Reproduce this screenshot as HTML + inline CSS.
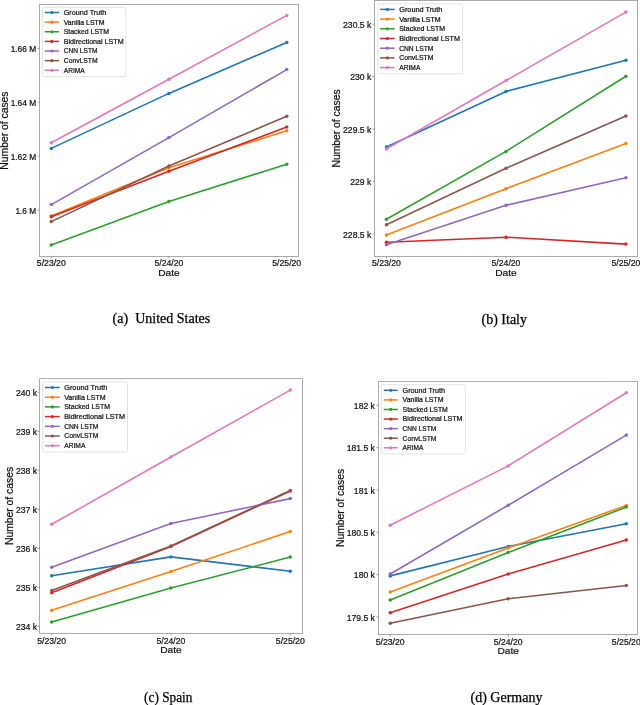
<!DOCTYPE html><html><head><meta charset="utf-8"><style>
html,body{margin:0;padding:0;background:#fff;width:640px;height:705px;overflow:hidden;position:relative}
svg{display:block;position:absolute;left:0;top:0}
.tx{will-change:transform}
text{font-family:"Liberation Sans",sans-serif;fill:#111;stroke:#111;stroke-width:0.22px}
text.cap{font-family:"Liberation Serif",serif;fill:#000;stroke:#000;stroke-width:0.25px}
</style></head><body>
<svg width="640" height="705" viewBox="0 0 640 705">
<polyline points="51.30,148.40 168.90,93.40 286.75,42.40" fill="none" stroke="#1f77b4" stroke-width="1.6" stroke-linejoin="round"/>
<circle cx="51.30" cy="148.40" r="1.75" fill="#1f77b4"/>
<circle cx="168.90" cy="93.40" r="1.75" fill="#1f77b4"/>
<circle cx="286.75" cy="42.40" r="1.75" fill="#1f77b4"/>
<polyline points="51.30,216.00 168.90,167.80 286.75,130.80" fill="none" stroke="#ff7f0e" stroke-width="1.6" stroke-linejoin="round"/>
<circle cx="51.30" cy="216.00" r="1.75" fill="#ff7f0e"/>
<circle cx="168.90" cy="167.80" r="1.75" fill="#ff7f0e"/>
<circle cx="286.75" cy="130.80" r="1.75" fill="#ff7f0e"/>
<polyline points="51.30,244.90 168.90,201.40 286.75,164.20" fill="none" stroke="#2ca02c" stroke-width="1.6" stroke-linejoin="round"/>
<circle cx="51.30" cy="244.90" r="1.75" fill="#2ca02c"/>
<circle cx="168.90" cy="201.40" r="1.75" fill="#2ca02c"/>
<circle cx="286.75" cy="164.20" r="1.75" fill="#2ca02c"/>
<polyline points="51.30,216.80 168.90,171.20 286.75,127.10" fill="none" stroke="#d62728" stroke-width="1.6" stroke-linejoin="round"/>
<circle cx="51.30" cy="216.80" r="1.75" fill="#d62728"/>
<circle cx="168.90" cy="171.20" r="1.75" fill="#d62728"/>
<circle cx="286.75" cy="127.10" r="1.75" fill="#d62728"/>
<polyline points="51.30,204.60 168.90,137.60 286.75,69.60" fill="none" stroke="#9467bd" stroke-width="1.6" stroke-linejoin="round"/>
<circle cx="51.30" cy="204.60" r="1.75" fill="#9467bd"/>
<circle cx="168.90" cy="137.60" r="1.75" fill="#9467bd"/>
<circle cx="286.75" cy="69.60" r="1.75" fill="#9467bd"/>
<polyline points="51.30,221.60 168.90,166.00 286.75,116.30" fill="none" stroke="#8c564b" stroke-width="1.6" stroke-linejoin="round"/>
<circle cx="51.30" cy="221.60" r="1.75" fill="#8c564b"/>
<circle cx="168.90" cy="166.00" r="1.75" fill="#8c564b"/>
<circle cx="286.75" cy="116.30" r="1.75" fill="#8c564b"/>
<polyline points="51.30,142.80 168.90,79.30 286.75,15.40" fill="none" stroke="#e377c2" stroke-width="1.6" stroke-linejoin="round"/>
<circle cx="51.30" cy="142.80" r="1.75" fill="#e377c2"/>
<circle cx="168.90" cy="79.30" r="1.75" fill="#e377c2"/>
<circle cx="286.75" cy="15.40" r="1.75" fill="#e377c2"/>
<rect x="39.5" y="4.5" width="259.00" height="252.00" fill="none" stroke="#aaa" stroke-width="1"/>
<line x1="51.3" y1="256.5" x2="51.3" y2="258.5" stroke="#777" stroke-width="0.7"/>
<line x1="168.9" y1="256.5" x2="168.9" y2="258.5" stroke="#777" stroke-width="0.7"/>
<line x1="286.75" y1="256.5" x2="286.75" y2="258.5" stroke="#777" stroke-width="0.7"/>
<line x1="37.5" y1="48.4" x2="39.5" y2="48.4" stroke="#777" stroke-width="0.7"/>
<line x1="37.5" y1="102.3" x2="39.5" y2="102.3" stroke="#777" stroke-width="0.7"/>
<line x1="37.5" y1="156.2" x2="39.5" y2="156.2" stroke="#777" stroke-width="0.7"/>
<line x1="37.5" y1="210.0" x2="39.5" y2="210.0" stroke="#777" stroke-width="0.7"/>
<rect x="42.3" y="7.3" width="83.60" height="69.30" rx="1.5" fill="#fff" fill-opacity="0.8" stroke="#dcdcdc" stroke-width="0.8"/>
<line x1="44.7" y1="12.50" x2="59.0" y2="12.50" stroke="#1f77b4" stroke-width="1.5"/>
<circle cx="51.85" cy="12.50" r="1.6" fill="#1f77b4"/>
<line x1="44.7" y1="22.13" x2="59.0" y2="22.13" stroke="#ff7f0e" stroke-width="1.5"/>
<circle cx="51.85" cy="22.13" r="1.6" fill="#ff7f0e"/>
<line x1="44.7" y1="31.76" x2="59.0" y2="31.76" stroke="#2ca02c" stroke-width="1.5"/>
<circle cx="51.85" cy="31.76" r="1.6" fill="#2ca02c"/>
<line x1="44.7" y1="41.39" x2="59.0" y2="41.39" stroke="#d62728" stroke-width="1.5"/>
<circle cx="51.85" cy="41.39" r="1.6" fill="#d62728"/>
<line x1="44.7" y1="51.02" x2="59.0" y2="51.02" stroke="#9467bd" stroke-width="1.5"/>
<circle cx="51.85" cy="51.02" r="1.6" fill="#9467bd"/>
<line x1="44.7" y1="60.65" x2="59.0" y2="60.65" stroke="#8c564b" stroke-width="1.5"/>
<circle cx="51.85" cy="60.65" r="1.6" fill="#8c564b"/>
<line x1="44.7" y1="70.28" x2="59.0" y2="70.28" stroke="#e377c2" stroke-width="1.5"/>
<circle cx="51.85" cy="70.28" r="1.6" fill="#e377c2"/>
<polyline points="386.40,147.00 506.00,91.40 625.90,60.30" fill="none" stroke="#1f77b4" stroke-width="1.6" stroke-linejoin="round"/>
<circle cx="386.40" cy="147.00" r="1.75" fill="#1f77b4"/>
<circle cx="506.00" cy="91.40" r="1.75" fill="#1f77b4"/>
<circle cx="625.90" cy="60.30" r="1.75" fill="#1f77b4"/>
<polyline points="386.40,234.90 506.00,188.70 625.90,143.60" fill="none" stroke="#ff7f0e" stroke-width="1.6" stroke-linejoin="round"/>
<circle cx="386.40" cy="234.90" r="1.75" fill="#ff7f0e"/>
<circle cx="506.00" cy="188.70" r="1.75" fill="#ff7f0e"/>
<circle cx="625.90" cy="143.60" r="1.75" fill="#ff7f0e"/>
<polyline points="386.40,219.30 506.00,151.40 625.90,76.20" fill="none" stroke="#2ca02c" stroke-width="1.6" stroke-linejoin="round"/>
<circle cx="386.40" cy="219.30" r="1.75" fill="#2ca02c"/>
<circle cx="506.00" cy="151.40" r="1.75" fill="#2ca02c"/>
<circle cx="625.90" cy="76.20" r="1.75" fill="#2ca02c"/>
<polyline points="386.40,242.20 506.00,237.20 625.90,244.10" fill="none" stroke="#d62728" stroke-width="1.6" stroke-linejoin="round"/>
<circle cx="386.40" cy="242.20" r="1.75" fill="#d62728"/>
<circle cx="506.00" cy="237.20" r="1.75" fill="#d62728"/>
<circle cx="625.90" cy="244.10" r="1.75" fill="#d62728"/>
<polyline points="386.40,244.80 506.00,205.30 625.90,177.80" fill="none" stroke="#9467bd" stroke-width="1.6" stroke-linejoin="round"/>
<circle cx="386.40" cy="244.80" r="1.75" fill="#9467bd"/>
<circle cx="506.00" cy="205.30" r="1.75" fill="#9467bd"/>
<circle cx="625.90" cy="177.80" r="1.75" fill="#9467bd"/>
<polyline points="386.40,224.80 506.00,168.30 625.90,116.10" fill="none" stroke="#8c564b" stroke-width="1.6" stroke-linejoin="round"/>
<circle cx="386.40" cy="224.80" r="1.75" fill="#8c564b"/>
<circle cx="506.00" cy="168.30" r="1.75" fill="#8c564b"/>
<circle cx="625.90" cy="116.10" r="1.75" fill="#8c564b"/>
<polyline points="386.40,149.00 506.00,80.50 625.90,12.10" fill="none" stroke="#e377c2" stroke-width="1.6" stroke-linejoin="round"/>
<circle cx="386.40" cy="149.00" r="1.75" fill="#e377c2"/>
<circle cx="506.00" cy="80.50" r="1.75" fill="#e377c2"/>
<circle cx="625.90" cy="12.10" r="1.75" fill="#e377c2"/>
<rect x="374.5" y="0.5" width="263.00" height="256.00" fill="none" stroke="#aaa" stroke-width="1"/>
<line x1="386.4" y1="256.5" x2="386.4" y2="258.5" stroke="#777" stroke-width="0.7"/>
<line x1="506.0" y1="256.5" x2="506.0" y2="258.5" stroke="#777" stroke-width="0.7"/>
<line x1="625.9" y1="256.5" x2="625.9" y2="258.5" stroke="#777" stroke-width="0.7"/>
<line x1="372.5" y1="24.2" x2="374.5" y2="24.2" stroke="#777" stroke-width="0.7"/>
<line x1="372.5" y1="76.6" x2="374.5" y2="76.6" stroke="#777" stroke-width="0.7"/>
<line x1="372.5" y1="129.0" x2="374.5" y2="129.0" stroke="#777" stroke-width="0.7"/>
<line x1="372.5" y1="181.4" x2="374.5" y2="181.4" stroke="#777" stroke-width="0.7"/>
<line x1="372.5" y1="233.8" x2="374.5" y2="233.8" stroke="#777" stroke-width="0.7"/>
<rect x="377.8" y="3.75" width="84.70" height="70.00" rx="1.5" fill="#fff" fill-opacity="0.8" stroke="#dcdcdc" stroke-width="0.8"/>
<line x1="380.0" y1="9.40" x2="394.7" y2="9.40" stroke="#1f77b4" stroke-width="1.5"/>
<circle cx="387.35" cy="9.40" r="1.6" fill="#1f77b4"/>
<line x1="380.0" y1="19.10" x2="394.7" y2="19.10" stroke="#ff7f0e" stroke-width="1.5"/>
<circle cx="387.35" cy="19.10" r="1.6" fill="#ff7f0e"/>
<line x1="380.0" y1="28.80" x2="394.7" y2="28.80" stroke="#2ca02c" stroke-width="1.5"/>
<circle cx="387.35" cy="28.80" r="1.6" fill="#2ca02c"/>
<line x1="380.0" y1="38.50" x2="394.7" y2="38.50" stroke="#d62728" stroke-width="1.5"/>
<circle cx="387.35" cy="38.50" r="1.6" fill="#d62728"/>
<line x1="380.0" y1="48.20" x2="394.7" y2="48.20" stroke="#9467bd" stroke-width="1.5"/>
<circle cx="387.35" cy="48.20" r="1.6" fill="#9467bd"/>
<line x1="380.0" y1="57.90" x2="394.7" y2="57.90" stroke="#8c564b" stroke-width="1.5"/>
<circle cx="387.35" cy="57.90" r="1.6" fill="#8c564b"/>
<line x1="380.0" y1="67.60" x2="394.7" y2="67.60" stroke="#e377c2" stroke-width="1.5"/>
<circle cx="387.35" cy="67.60" r="1.6" fill="#e377c2"/>
<polyline points="51.70,575.70 170.90,556.90 290.30,571.30" fill="none" stroke="#1f77b4" stroke-width="1.6" stroke-linejoin="round"/>
<circle cx="51.70" cy="575.70" r="1.75" fill="#1f77b4"/>
<circle cx="170.90" cy="556.90" r="1.75" fill="#1f77b4"/>
<circle cx="290.30" cy="571.30" r="1.75" fill="#1f77b4"/>
<polyline points="51.70,610.20 170.90,571.50 290.30,531.50" fill="none" stroke="#ff7f0e" stroke-width="1.6" stroke-linejoin="round"/>
<circle cx="51.70" cy="610.20" r="1.75" fill="#ff7f0e"/>
<circle cx="170.90" cy="571.50" r="1.75" fill="#ff7f0e"/>
<circle cx="290.30" cy="531.50" r="1.75" fill="#ff7f0e"/>
<polyline points="51.70,622.10 170.90,588.00 290.30,557.10" fill="none" stroke="#2ca02c" stroke-width="1.6" stroke-linejoin="round"/>
<circle cx="51.70" cy="622.10" r="1.75" fill="#2ca02c"/>
<circle cx="170.90" cy="588.00" r="1.75" fill="#2ca02c"/>
<circle cx="290.30" cy="557.10" r="1.75" fill="#2ca02c"/>
<polyline points="51.70,592.80 170.90,546.40 290.30,491.00" fill="none" stroke="#d62728" stroke-width="1.6" stroke-linejoin="round"/>
<circle cx="51.70" cy="592.80" r="1.75" fill="#d62728"/>
<circle cx="170.90" cy="546.40" r="1.75" fill="#d62728"/>
<circle cx="290.30" cy="491.00" r="1.75" fill="#d62728"/>
<polyline points="51.70,567.20 170.90,523.50 290.30,498.60" fill="none" stroke="#9467bd" stroke-width="1.6" stroke-linejoin="round"/>
<circle cx="51.70" cy="567.20" r="1.75" fill="#9467bd"/>
<circle cx="170.90" cy="523.50" r="1.75" fill="#9467bd"/>
<circle cx="290.30" cy="498.60" r="1.75" fill="#9467bd"/>
<polyline points="51.70,590.60 170.90,546.00 290.30,490.40" fill="none" stroke="#8c564b" stroke-width="1.6" stroke-linejoin="round"/>
<circle cx="51.70" cy="590.60" r="1.75" fill="#8c564b"/>
<circle cx="170.90" cy="546.00" r="1.75" fill="#8c564b"/>
<circle cx="290.30" cy="490.40" r="1.75" fill="#8c564b"/>
<polyline points="51.70,524.30 170.90,457.00 290.30,390.10" fill="none" stroke="#e377c2" stroke-width="1.6" stroke-linejoin="round"/>
<circle cx="51.70" cy="524.30" r="1.75" fill="#e377c2"/>
<circle cx="170.90" cy="457.00" r="1.75" fill="#e377c2"/>
<circle cx="290.30" cy="390.10" r="1.75" fill="#e377c2"/>
<rect x="39.5" y="378.6" width="263.00" height="254.90" fill="none" stroke="#aaa" stroke-width="1"/>
<line x1="51.7" y1="633.5" x2="51.7" y2="635.5" stroke="#777" stroke-width="0.7"/>
<line x1="170.9" y1="633.5" x2="170.9" y2="635.5" stroke="#777" stroke-width="0.7"/>
<line x1="290.3" y1="633.5" x2="290.3" y2="635.5" stroke="#777" stroke-width="0.7"/>
<line x1="37.5" y1="392.3" x2="39.5" y2="392.3" stroke="#777" stroke-width="0.7"/>
<line x1="37.5" y1="431.33" x2="39.5" y2="431.33" stroke="#777" stroke-width="0.7"/>
<line x1="37.5" y1="470.36" x2="39.5" y2="470.36" stroke="#777" stroke-width="0.7"/>
<line x1="37.5" y1="509.39" x2="39.5" y2="509.39" stroke="#777" stroke-width="0.7"/>
<line x1="37.5" y1="548.42" x2="39.5" y2="548.42" stroke="#777" stroke-width="0.7"/>
<line x1="37.5" y1="587.45" x2="39.5" y2="587.45" stroke="#777" stroke-width="0.7"/>
<line x1="37.5" y1="626.48" x2="39.5" y2="626.48" stroke="#777" stroke-width="0.7"/>
<rect x="42.8" y="381.9" width="84.70" height="70.10" rx="1.5" fill="#fff" fill-opacity="0.8" stroke="#dcdcdc" stroke-width="0.8"/>
<line x1="45.0" y1="387.50" x2="59.7" y2="387.50" stroke="#1f77b4" stroke-width="1.5"/>
<circle cx="52.35" cy="387.50" r="1.6" fill="#1f77b4"/>
<line x1="45.0" y1="397.20" x2="59.7" y2="397.20" stroke="#ff7f0e" stroke-width="1.5"/>
<circle cx="52.35" cy="397.20" r="1.6" fill="#ff7f0e"/>
<line x1="45.0" y1="406.90" x2="59.7" y2="406.90" stroke="#2ca02c" stroke-width="1.5"/>
<circle cx="52.35" cy="406.90" r="1.6" fill="#2ca02c"/>
<line x1="45.0" y1="416.60" x2="59.7" y2="416.60" stroke="#d62728" stroke-width="1.5"/>
<circle cx="52.35" cy="416.60" r="1.6" fill="#d62728"/>
<line x1="45.0" y1="426.30" x2="59.7" y2="426.30" stroke="#9467bd" stroke-width="1.5"/>
<circle cx="52.35" cy="426.30" r="1.6" fill="#9467bd"/>
<line x1="45.0" y1="436.00" x2="59.7" y2="436.00" stroke="#8c564b" stroke-width="1.5"/>
<circle cx="52.35" cy="436.00" r="1.6" fill="#8c564b"/>
<line x1="45.0" y1="445.70" x2="59.7" y2="445.70" stroke="#e377c2" stroke-width="1.5"/>
<circle cx="52.35" cy="445.70" r="1.6" fill="#e377c2"/>
<polyline points="390.20,575.90 508.20,546.50 626.30,523.80" fill="none" stroke="#1f77b4" stroke-width="1.6" stroke-linejoin="round"/>
<circle cx="390.20" cy="575.90" r="1.75" fill="#1f77b4"/>
<circle cx="508.20" cy="546.50" r="1.75" fill="#1f77b4"/>
<circle cx="626.30" cy="523.80" r="1.75" fill="#1f77b4"/>
<polyline points="390.20,592.00 508.20,548.00 626.30,505.40" fill="none" stroke="#ff7f0e" stroke-width="1.6" stroke-linejoin="round"/>
<circle cx="390.20" cy="592.00" r="1.75" fill="#ff7f0e"/>
<circle cx="508.20" cy="548.00" r="1.75" fill="#ff7f0e"/>
<circle cx="626.30" cy="505.40" r="1.75" fill="#ff7f0e"/>
<polyline points="390.20,600.00 508.20,552.60 626.30,507.10" fill="none" stroke="#2ca02c" stroke-width="1.6" stroke-linejoin="round"/>
<circle cx="390.20" cy="600.00" r="1.75" fill="#2ca02c"/>
<circle cx="508.20" cy="552.60" r="1.75" fill="#2ca02c"/>
<circle cx="626.30" cy="507.10" r="1.75" fill="#2ca02c"/>
<polyline points="390.20,612.80 508.20,574.10 626.30,540.10" fill="none" stroke="#d62728" stroke-width="1.6" stroke-linejoin="round"/>
<circle cx="390.20" cy="612.80" r="1.75" fill="#d62728"/>
<circle cx="508.20" cy="574.10" r="1.75" fill="#d62728"/>
<circle cx="626.30" cy="540.10" r="1.75" fill="#d62728"/>
<polyline points="390.20,574.00 508.20,505.20 626.30,435.10" fill="none" stroke="#9467bd" stroke-width="1.6" stroke-linejoin="round"/>
<circle cx="390.20" cy="574.00" r="1.75" fill="#9467bd"/>
<circle cx="508.20" cy="505.20" r="1.75" fill="#9467bd"/>
<circle cx="626.30" cy="435.10" r="1.75" fill="#9467bd"/>
<polyline points="390.20,623.30 508.20,598.70 626.30,585.50" fill="none" stroke="#8c564b" stroke-width="1.6" stroke-linejoin="round"/>
<circle cx="390.20" cy="623.30" r="1.75" fill="#8c564b"/>
<circle cx="508.20" cy="598.70" r="1.75" fill="#8c564b"/>
<circle cx="626.30" cy="585.50" r="1.75" fill="#8c564b"/>
<polyline points="390.20,525.20 508.20,465.90 626.30,392.80" fill="none" stroke="#e377c2" stroke-width="1.6" stroke-linejoin="round"/>
<circle cx="390.20" cy="525.20" r="1.75" fill="#e377c2"/>
<circle cx="508.20" cy="465.90" r="1.75" fill="#e377c2"/>
<circle cx="626.30" cy="392.80" r="1.75" fill="#e377c2"/>
<rect x="378.5" y="381.5" width="259.00" height="253.00" fill="none" stroke="#aaa" stroke-width="1"/>
<line x1="390.2" y1="634.5" x2="390.2" y2="636.5" stroke="#777" stroke-width="0.7"/>
<line x1="508.2" y1="634.5" x2="508.2" y2="636.5" stroke="#777" stroke-width="0.7"/>
<line x1="626.3" y1="634.5" x2="626.3" y2="636.5" stroke="#777" stroke-width="0.7"/>
<line x1="376.5" y1="405.3" x2="378.5" y2="405.3" stroke="#777" stroke-width="0.7"/>
<line x1="376.5" y1="447.64" x2="378.5" y2="447.64" stroke="#777" stroke-width="0.7"/>
<line x1="376.5" y1="489.98" x2="378.5" y2="489.98" stroke="#777" stroke-width="0.7"/>
<line x1="376.5" y1="532.32" x2="378.5" y2="532.32" stroke="#777" stroke-width="0.7"/>
<line x1="376.5" y1="574.66" x2="378.5" y2="574.66" stroke="#777" stroke-width="0.7"/>
<line x1="376.5" y1="617.0" x2="378.5" y2="617.0" stroke="#777" stroke-width="0.7"/>
<rect x="381.25" y="384.7" width="84.05" height="69.20" rx="1.5" fill="#fff" fill-opacity="0.8" stroke="#dcdcdc" stroke-width="0.8"/>
<line x1="383.75" y1="390.30" x2="397.8" y2="390.30" stroke="#1f77b4" stroke-width="1.5"/>
<circle cx="390.77" cy="390.30" r="1.6" fill="#1f77b4"/>
<line x1="383.75" y1="399.88" x2="397.8" y2="399.88" stroke="#ff7f0e" stroke-width="1.5"/>
<circle cx="390.77" cy="399.88" r="1.6" fill="#ff7f0e"/>
<line x1="383.75" y1="409.46" x2="397.8" y2="409.46" stroke="#2ca02c" stroke-width="1.5"/>
<circle cx="390.77" cy="409.46" r="1.6" fill="#2ca02c"/>
<line x1="383.75" y1="419.04" x2="397.8" y2="419.04" stroke="#d62728" stroke-width="1.5"/>
<circle cx="390.77" cy="419.04" r="1.6" fill="#d62728"/>
<line x1="383.75" y1="428.62" x2="397.8" y2="428.62" stroke="#9467bd" stroke-width="1.5"/>
<circle cx="390.77" cy="428.62" r="1.6" fill="#9467bd"/>
<line x1="383.75" y1="438.20" x2="397.8" y2="438.20" stroke="#8c564b" stroke-width="1.5"/>
<circle cx="390.77" cy="438.20" r="1.6" fill="#8c564b"/>
<line x1="383.75" y1="447.78" x2="397.8" y2="447.78" stroke="#e377c2" stroke-width="1.5"/>
<circle cx="390.77" cy="447.78" r="1.6" fill="#e377c2"/>
</svg>
<svg class="tx" width="640" height="705" viewBox="0 0 640 705">
<text x="51.30" y="266.00" font-size="8.62" text-anchor="middle" textLength="28.91" lengthAdjust="spacingAndGlyphs">5/23/20</text>
<text x="168.90" y="266.00" font-size="8.62" text-anchor="middle" textLength="28.91" lengthAdjust="spacingAndGlyphs">5/24/20</text>
<text x="286.75" y="266.00" font-size="8.62" text-anchor="middle" textLength="28.91" lengthAdjust="spacingAndGlyphs">5/25/20</text>
<text x="36.20" y="52.19" font-size="8.62" text-anchor="end" textLength="25.55" lengthAdjust="spacingAndGlyphs">1.66 M</text>
<text x="36.20" y="106.09" font-size="8.62" text-anchor="end" textLength="25.55" lengthAdjust="spacingAndGlyphs">1.64 M</text>
<text x="36.20" y="159.99" font-size="8.62" text-anchor="end" textLength="25.55" lengthAdjust="spacingAndGlyphs">1.62 M</text>
<text x="36.20" y="213.79" font-size="8.62" text-anchor="end" textLength="20.78" lengthAdjust="spacingAndGlyphs">1.6 M</text>
<text x="168.90" y="276.00" font-size="9.90" text-anchor="middle" textLength="21.51" lengthAdjust="spacingAndGlyphs">Date</text>
<text transform="translate(8.00,130.60) rotate(-90)" x="0" y="0" font-size="10.80" text-anchor="middle" textLength="78.21" lengthAdjust="spacingAndGlyphs">Number of cases</text>
<text x="63.75" y="14.87" font-size="7.02" text-anchor="start" textLength="42.45" lengthAdjust="spacingAndGlyphs">Ground Truth</text>
<text x="63.75" y="24.50" font-size="7.02" text-anchor="start" textLength="40.84" lengthAdjust="spacingAndGlyphs">Vanilla LSTM</text>
<text x="63.75" y="34.13" font-size="7.02" text-anchor="start" textLength="45.28" lengthAdjust="spacingAndGlyphs">Stacked LSTM</text>
<text x="63.75" y="43.76" font-size="7.02" text-anchor="start" textLength="59.93" lengthAdjust="spacingAndGlyphs">Bidirectional LSTM</text>
<text x="63.75" y="53.39" font-size="7.02" text-anchor="start" textLength="33.66" lengthAdjust="spacingAndGlyphs">CNN LSTM</text>
<text x="63.75" y="63.02" font-size="7.02" text-anchor="start" textLength="33.81" lengthAdjust="spacingAndGlyphs">ConvLSTM</text>
<text x="63.75" y="72.65" font-size="7.02" text-anchor="start" textLength="20.93" lengthAdjust="spacingAndGlyphs">ARIMA</text>
<text x="386.40" y="266.00" font-size="8.62" text-anchor="middle" textLength="28.91" lengthAdjust="spacingAndGlyphs">5/23/20</text>
<text x="506.00" y="266.00" font-size="8.62" text-anchor="middle" textLength="28.91" lengthAdjust="spacingAndGlyphs">5/24/20</text>
<text x="625.90" y="266.00" font-size="8.62" text-anchor="middle" textLength="28.91" lengthAdjust="spacingAndGlyphs">5/25/20</text>
<text x="371.30" y="27.99" font-size="8.62" text-anchor="end" textLength="28.20" lengthAdjust="spacingAndGlyphs">230.5 k</text>
<text x="371.30" y="80.39" font-size="8.62" text-anchor="end" textLength="21.04" lengthAdjust="spacingAndGlyphs">230 k</text>
<text x="371.30" y="132.79" font-size="8.62" text-anchor="end" textLength="28.20" lengthAdjust="spacingAndGlyphs">229.5 k</text>
<text x="371.30" y="185.19" font-size="8.62" text-anchor="end" textLength="21.04" lengthAdjust="spacingAndGlyphs">229 k</text>
<text x="371.30" y="237.59" font-size="8.62" text-anchor="end" textLength="28.20" lengthAdjust="spacingAndGlyphs">228.5 k</text>
<text x="506.00" y="276.00" font-size="9.90" text-anchor="middle" textLength="21.51" lengthAdjust="spacingAndGlyphs">Date</text>
<text transform="translate(339.90,128.50) rotate(-90)" x="0" y="0" font-size="10.80" text-anchor="middle" textLength="78.21" lengthAdjust="spacingAndGlyphs">Number of cases</text>
<text x="399.20" y="11.81" font-size="7.13" text-anchor="start" textLength="43.10" lengthAdjust="spacingAndGlyphs">Ground Truth</text>
<text x="399.20" y="21.51" font-size="7.13" text-anchor="start" textLength="41.47" lengthAdjust="spacingAndGlyphs">Vanilla LSTM</text>
<text x="399.20" y="31.21" font-size="7.13" text-anchor="start" textLength="45.98" lengthAdjust="spacingAndGlyphs">Stacked LSTM</text>
<text x="399.20" y="40.91" font-size="7.13" text-anchor="start" textLength="60.85" lengthAdjust="spacingAndGlyphs">Bidirectional LSTM</text>
<text x="399.20" y="50.61" font-size="7.13" text-anchor="start" textLength="34.17" lengthAdjust="spacingAndGlyphs">CNN LSTM</text>
<text x="399.20" y="60.31" font-size="7.13" text-anchor="start" textLength="34.33" lengthAdjust="spacingAndGlyphs">ConvLSTM</text>
<text x="399.20" y="70.01" font-size="7.13" text-anchor="start" textLength="21.26" lengthAdjust="spacingAndGlyphs">ARIMA</text>
<text x="51.70" y="643.60" font-size="8.62" text-anchor="middle" textLength="28.91" lengthAdjust="spacingAndGlyphs">5/23/20</text>
<text x="170.90" y="643.60" font-size="8.62" text-anchor="middle" textLength="28.91" lengthAdjust="spacingAndGlyphs">5/24/20</text>
<text x="290.30" y="643.60" font-size="8.62" text-anchor="middle" textLength="28.91" lengthAdjust="spacingAndGlyphs">5/25/20</text>
<text x="37.00" y="396.09" font-size="8.62" text-anchor="end" textLength="21.04" lengthAdjust="spacingAndGlyphs">240 k</text>
<text x="37.00" y="435.12" font-size="8.62" text-anchor="end" textLength="21.04" lengthAdjust="spacingAndGlyphs">239 k</text>
<text x="37.00" y="474.15" font-size="8.62" text-anchor="end" textLength="21.04" lengthAdjust="spacingAndGlyphs">238 k</text>
<text x="37.00" y="513.18" font-size="8.62" text-anchor="end" textLength="21.04" lengthAdjust="spacingAndGlyphs">237 k</text>
<text x="37.00" y="552.21" font-size="8.62" text-anchor="end" textLength="21.04" lengthAdjust="spacingAndGlyphs">236 k</text>
<text x="37.00" y="591.24" font-size="8.62" text-anchor="end" textLength="21.04" lengthAdjust="spacingAndGlyphs">235 k</text>
<text x="37.00" y="630.27" font-size="8.62" text-anchor="end" textLength="21.04" lengthAdjust="spacingAndGlyphs">234 k</text>
<text x="170.90" y="653.00" font-size="9.90" text-anchor="middle" textLength="21.51" lengthAdjust="spacingAndGlyphs">Date</text>
<text transform="translate(12.60,506.00) rotate(-90)" x="0" y="0" font-size="10.80" text-anchor="middle" textLength="78.21" lengthAdjust="spacingAndGlyphs">Number of cases</text>
<text x="64.20" y="389.91" font-size="7.13" text-anchor="start" textLength="43.10" lengthAdjust="spacingAndGlyphs">Ground Truth</text>
<text x="64.20" y="399.61" font-size="7.13" text-anchor="start" textLength="41.47" lengthAdjust="spacingAndGlyphs">Vanilla LSTM</text>
<text x="64.20" y="409.31" font-size="7.13" text-anchor="start" textLength="45.98" lengthAdjust="spacingAndGlyphs">Stacked LSTM</text>
<text x="64.20" y="419.01" font-size="7.13" text-anchor="start" textLength="60.85" lengthAdjust="spacingAndGlyphs">Bidirectional LSTM</text>
<text x="64.20" y="428.71" font-size="7.13" text-anchor="start" textLength="34.17" lengthAdjust="spacingAndGlyphs">CNN LSTM</text>
<text x="64.20" y="438.41" font-size="7.13" text-anchor="start" textLength="34.33" lengthAdjust="spacingAndGlyphs">ConvLSTM</text>
<text x="64.20" y="448.11" font-size="7.13" text-anchor="start" textLength="21.26" lengthAdjust="spacingAndGlyphs">ARIMA</text>
<text x="390.20" y="644.50" font-size="8.62" text-anchor="middle" textLength="28.91" lengthAdjust="spacingAndGlyphs">5/23/20</text>
<text x="508.20" y="644.50" font-size="8.62" text-anchor="middle" textLength="28.91" lengthAdjust="spacingAndGlyphs">5/24/20</text>
<text x="626.30" y="644.50" font-size="8.62" text-anchor="middle" textLength="28.91" lengthAdjust="spacingAndGlyphs">5/25/20</text>
<text x="374.90" y="409.09" font-size="8.62" text-anchor="end" textLength="21.04" lengthAdjust="spacingAndGlyphs">182 k</text>
<text x="374.90" y="451.43" font-size="8.62" text-anchor="end" textLength="28.20" lengthAdjust="spacingAndGlyphs">181.5 k</text>
<text x="374.90" y="493.77" font-size="8.62" text-anchor="end" textLength="21.04" lengthAdjust="spacingAndGlyphs">181 k</text>
<text x="374.90" y="536.11" font-size="8.62" text-anchor="end" textLength="28.20" lengthAdjust="spacingAndGlyphs">180.5 k</text>
<text x="374.90" y="578.45" font-size="8.62" text-anchor="end" textLength="21.04" lengthAdjust="spacingAndGlyphs">180 k</text>
<text x="374.90" y="620.79" font-size="8.62" text-anchor="end" textLength="28.20" lengthAdjust="spacingAndGlyphs">179.5 k</text>
<text x="508.20" y="654.00" font-size="9.90" text-anchor="middle" textLength="21.51" lengthAdjust="spacingAndGlyphs">Date</text>
<text transform="translate(343.50,508.00) rotate(-90)" x="0" y="0" font-size="10.80" text-anchor="middle" textLength="78.21" lengthAdjust="spacingAndGlyphs">Number of cases</text>
<text x="402.60" y="392.67" font-size="7.02" text-anchor="start" textLength="42.45" lengthAdjust="spacingAndGlyphs">Ground Truth</text>
<text x="402.60" y="402.25" font-size="7.02" text-anchor="start" textLength="40.84" lengthAdjust="spacingAndGlyphs">Vanilla LSTM</text>
<text x="402.60" y="411.83" font-size="7.02" text-anchor="start" textLength="45.28" lengthAdjust="spacingAndGlyphs">Stacked LSTM</text>
<text x="402.60" y="421.41" font-size="7.02" text-anchor="start" textLength="59.93" lengthAdjust="spacingAndGlyphs">Bidirectional LSTM</text>
<text x="402.60" y="430.99" font-size="7.02" text-anchor="start" textLength="33.66" lengthAdjust="spacingAndGlyphs">CNN LSTM</text>
<text x="402.60" y="440.57" font-size="7.02" text-anchor="start" textLength="33.81" lengthAdjust="spacingAndGlyphs">ConvLSTM</text>
<text x="402.60" y="450.15" font-size="7.02" text-anchor="start" textLength="20.93" lengthAdjust="spacingAndGlyphs">ARIMA</text>
<text x="161.4" y="323.4" font-size="14" text-anchor="middle" class="cap">(a)  United States</text>
<text x="504.25" y="323.8" font-size="14" text-anchor="middle" class="cap">(b) Italy</text>
<text x="168.25" y="701.9" font-size="14" text-anchor="middle" class="cap" textLength="48.3" lengthAdjust="spacingAndGlyphs">(c) Spain</text>
<text x="506.5" y="701.9" font-size="14" text-anchor="middle" class="cap">(d) Germany</text>
</svg>
</body></html>
